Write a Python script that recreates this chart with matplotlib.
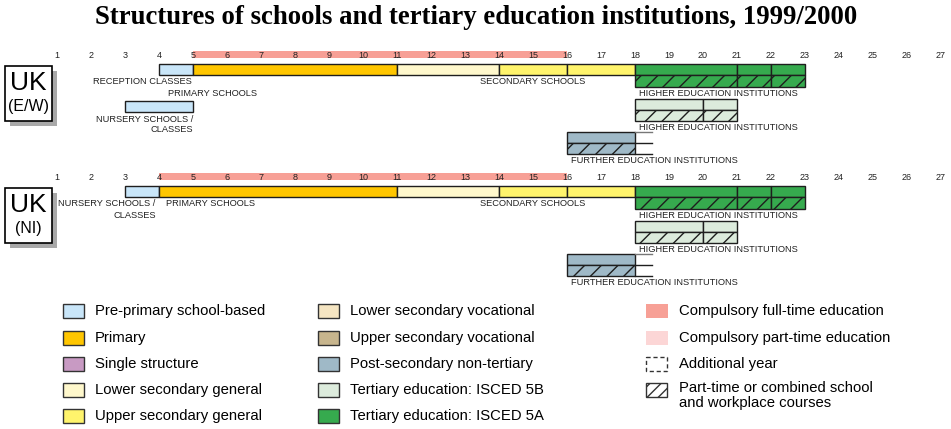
import matplotlib
matplotlib.use('Agg')
from matplotlib import pyplot as plt
from matplotlib import patches

plt.rcParams['font.family'] = ['Liberation Sans', 'DejaVu Sans']

# Ages shown on the scale above each diagram:
ages = list(range(1, 28))

# Colours of the ISCED levels (legend order):
colors = {
    'pre': '#c9e6f9', 'pri': '#ffc600', 'single': '#c89ac3', 'lsg': '#fff8cc', 'usg': '#fff46c',
    'lsv': '#f5e5c2', 'usv': '#c7b58d', 'post': '#9fb9c7', 't5b': '#dcebdc', 't5a': '#36aa4e',
    'cft': '#f7a096', 'cpt': '#fcd6d6',
}

# UK (England/Wales):
ew_compulsory = (5, 16)
ew_main = [(4, 5, 'pre'), (5, 11, 'pri'), (11, 14, 'lsg'), (14, 16, 'usg'), (16, 18, 'usg')]
ew_nursery = [(3, 5, 'pre')]
ew_he5a = [18, 21, 22, 23]
ew_he5b = [18, 20, 21]
ew_fe = [16, 18]

# UK (Northern Ireland):
ni_compulsory = (4, 16)
ni_main = [(3, 4, 'pre'), (4, 11, 'pri'), (11, 14, 'lsg'), (14, 16, 'usg'), (16, 18, 'usg')]
ni_he5a = [18, 21, 22, 23]
ni_he5b = [18, 20, 21]
ni_fe = [16, 18]
fe_open_end = 0.5

legend_col1 = [('pre', 'Pre-primary school-based'), ('pri', 'Primary'), ('single', 'Single structure'),
               ('lsg', 'Lower secondary general'), ('usg', 'Upper secondary general')]
legend_col2 = [('lsv', 'Lower secondary vocational'), ('usv', 'Upper secondary vocational'),
               ('post', 'Post-secondary non-tertiary'), ('t5b', 'Tertiary education: ISCED 5B'),
               ('t5a', 'Tertiary education: ISCED 5A')]
legend_col3 = [('cft', 'Compulsory full-time education'), ('cpt', 'Compulsory part-time education'),
               ('add', 'Additional year'), ('hatch', 'Part-time or combined school\nand workplace courses')]

EDGE = '#1e1e1e'
LBL = dict(fontsize=6.7, color='#222222', va='center')

fig = plt.figure(figsize=(9.51, 4.29), dpi=100)
# overlay in pixel units for title, country boxes and legend
lay = fig.add_axes([0, 0, 1, 1])
lay.set_xlim(0, 951)
lay.set_ylim(429, 0)
lay.axis('off')
# diagram axes: x in years of age
ax = fig.add_axes([0, 0, 1, 1])
ax.set_xlim(1 - 57 / 34, 1 + 894 / 34)
ax.set_ylim(429, 0)
ax.axis('off')
ax.patch.set_alpha(0)


def boxes(segs, y, h, hatch_h=0):
    for a, b, c in segs:
        ax.add_patch(patches.Rectangle((a, y), b - a, h, fc=colors[c], ec=EDGE, lw=1))
        if hatch_h:
            ax.add_patch(patches.Rectangle((a, y + h), b - a, hatch_h, fc=colors[c], ec=EDGE,
                                           lw=1, hatch='//'))


def edges_to_segs(edges, c):
    return [(a, b, c) for a, b in zip(edges[:-1], edges[1:])]


def panel(y0, compulsory, main, he5a, he5b, fe, name, sub):
    # compulsory band + age scale
    ax.add_patch(patches.Rectangle((compulsory[0], y0 - 4), compulsory[1] - compulsory[0], 7,
                                   fc=colors['cft'], ec='none'))
    for a in ages:
        ax.text(a, y0, str(a), fontsize=6.5, ha='center', va='center', color='#222222')
    boxes(main, y0 + 8.5, 11.5)
    boxes(edges_to_segs(he5a, 't5a'), y0 + 8.5, 11.5, 11.5)
    boxes(edges_to_segs(he5b, 't5b'), y0 + 43.5, 11, 11)
    boxes(edges_to_segs(fe, 'post'), y0 + 77, 11, 11)
    # open-ended continuation of further education
    for yy, col in [(y0 + 77, '#777777'), (y0 + 88, EDGE), (y0 + 99, EDGE)]:
        ax.plot([fe[-1], fe[-1] + fe_open_end], [yy, yy], color=col, lw=1)
    ax.text(15.0, y0 + 27, 'SECONDARY SCHOOLS', ha='center', **LBL)
    ax.text(18.12, y0 + 38, 'HIGHER EDUCATION INSTITUTIONS', ha='left', **LBL)
    ax.text(18.12, y0 + 72, 'HIGHER EDUCATION INSTITUTIONS', ha='left', **LBL)
    ax.text(16.12, y0 + 105.5, 'FURTHER EDUCATION INSTITUTIONS', ha='left', **LBL)
    # country box with shadow
    top = y0 + 11
    lay.add_patch(patches.Rectangle((10, top + 5), 47, 55, fc='#a9a9a9', ec='none'))
    lay.add_patch(patches.Rectangle((5, top), 47, 55, fc='white', ec='black', lw=1.2))
    lay.text(28.5, top + 17, name, fontsize=19, ha='center', va='center')
    lay.text(28.5, top + 40, sub, fontsize=11.5, ha='center', va='center')


panel(55, ew_compulsory, ew_main, ew_he5a, ew_he5b, ew_fe, 'UK', '(E/W)')
boxes(ew_nursery, 100.5, 11)
ax.text(4.95, 82, 'RECEPTION CLASSES', ha='right', **LBL)
ax.text(4.25, 93, 'PRIMARY SCHOOLS', ha='left', **LBL)
ax.text(5.0, 119, 'NURSERY SCHOOLS /', ha='right', **LBL)
ax.text(5.0, 130, 'CLASSES', ha='right', **LBL)

panel(177, ni_compulsory, ni_main, ni_he5a, ni_he5b, ni_fe, 'UK', '(NI)')
ax.text(3.9, 204, 'NURSERY SCHOOLS /', ha='right', **LBL)
ax.text(3.9, 215, 'CLASSES', ha='right', **LBL)
ax.text(4.22, 204, 'PRIMARY SCHOOLS', ha='left', **LBL)

lay.text(476, 17, 'Structures of schools and tertiary education institutions, 1999/2000',
         fontsize=19.3, fontweight='bold', family='Liberation Serif', ha='center', va='center')

# legend
LEG = 10.7
rows_y = [311, 338, 364, 390, 416]
for (key, txt), y in zip(legend_col1, rows_y):
    lay.add_patch(patches.Rectangle((63, y - 7), 21, 14, fc=colors[key], ec='#333333', lw=1))
    lay.text(95, y, txt, fontsize=LEG, va='center')
for (key, txt), y in zip(legend_col2, rows_y):
    lay.add_patch(patches.Rectangle((318, y - 7), 21, 14, fc=colors[key], ec='#333333', lw=1))
    lay.text(350, y, txt, fontsize=LEG, va='center')
for (key, txt), y in zip(legend_col3, rows_y):
    if key in ('cft', 'cpt'):
        lay.add_patch(patches.Rectangle((646, y - 7), 22, 14, fc=colors[key], ec='none'))
    elif key == 'add':
        lay.add_patch(patches.Rectangle((646, y - 7), 21, 14, fc='white', ec='#333333', lw=1,
                                        ls=(0, (3, 2))))
    else:
        lay.add_patch(patches.Rectangle((646, y - 7), 21, 14, fc='white', ec='#333333', lw=1,
                                        hatch='///'))
    if '\n' in txt:
        lay.text(679, y - 8.5, txt, fontsize=LEG, va='top', linespacing=1.05)
    else:
        lay.text(679, y, txt, fontsize=LEG, va='center')

fig.savefig('out.png', dpi=100)
